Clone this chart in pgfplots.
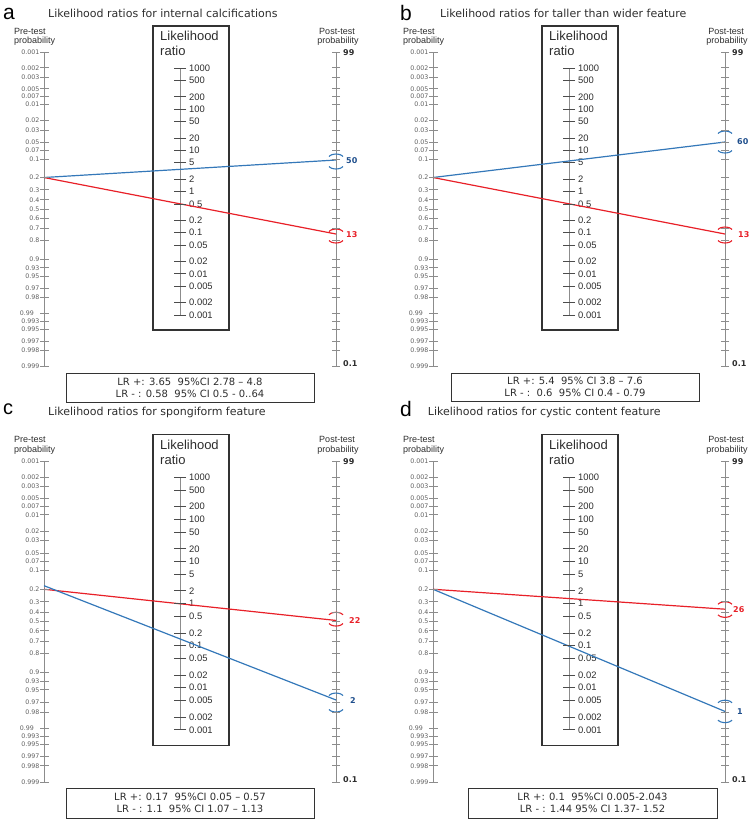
\documentclass[border=0pt]{standalone}
\usepackage{pgfplots}
\pgfplotsset{compat=1.18}
\usepackage{fontspec}
\setmainfont{Liberation Sans}
\newfontfamily\dv{DejaVu Sans}
\definecolor{lblue}{RGB}{52,120,185}
\definecolor{lred}{RGB}{232,32,40}
\definecolor{dblue}{RGB}{30,78,140}
\definecolor{axg}{RGB}{140,140,140}
\definecolor{labg}{RGB}{95,95,95}
\definecolor{txt}{RGB}{45,45,45}

\newcommand{\pl}[2]{\node[anchor=east,inner sep=0pt,font=\dv\fontsize{6.3}{7}\selectfont,text=labg] at (axis cs:39.5,#1) {#2};}
\newcommand{\lrl}[2]{\node[anchor=west,inner sep=0pt,font=\fontsize{9.4}{10}\selectfont,text=txt] at (axis cs:189,#1) {#2};}

\newcommand{\common}{%
 \draw[line width=1.1pt, black!80] (axis cs:153,26) rectangle (axis cs:229,330);
 \node[anchor=west, inner sep=0pt, font=\fontsize{13}{14}\selectfont, text=txt] at (axis cs:160,36) {Likelihood};
 \node[anchor=west, inner sep=0pt, font=\fontsize{13}{14}\selectfont, text=txt] at (axis cs:160,51) {ratio};
 \node[anchor=west, inner sep=0pt, font=\fontsize{9}{10}\selectfont, text=txt] at (axis cs:14,31) {Pre-test};
 \node[anchor=west, inner sep=0pt, font=\fontsize{9}{10}\selectfont, text=txt] at (axis cs:14,41) {probability};
 \node[anchor=center, inner sep=0pt, font=\fontsize{9}{10}\selectfont, text=txt] at (axis cs:337,31) {Post-test};
 \node[anchor=center, inner sep=0pt, font=\fontsize{9}{10}\selectfont, text=txt] at (axis cs:338,41) {probability};
 \addplot[axg, line width=0.8pt] coordinates {(44,52) (44,366)};
 \addplot[axg, line width=0.8pt] coordinates {(336,52) (336,366)};
 \addplot[axg, line width=0.8pt] coordinates {(180,68) (180,315)};
 \addplot[axg, only marks, mark=-, mark size=4.2pt, mark options={line width=0.8pt}] coordinates {
  (44.6,52.0) (44.6,67.8) (44.6,77.0) (44.6,88.7) (44.6,96.4) (44.6,104.6) (44.6,120.5) (44.6,130.0)
  (44.6,142.1) (44.6,150.2) (44.6,159.1) (44.6,177.5) (44.6,189.7) (44.6,199.8) (44.6,209.0) (44.6,218.2)
  (44.6,228.3) (44.6,240.5) (44.6,258.9) (44.6,267.8) (44.6,275.9) (44.6,288.0) (44.6,297.5) (44.6,313.4)
  (44.6,321.6) (44.6,329.3) (44.6,341.0) (44.6,350.2) (44.6,366.0)};
 \addplot[axg, only marks, mark=-, mark size=4.2pt, mark options={line width=0.8pt}] coordinates {
  (336,52.0) (336,67.8) (336,77.0) (336,88.7) (336,96.4) (336,104.6) (336,120.5) (336,130.0)
  (336,142.1) (336,150.2) (336,159.1) (336,177.5) (336,189.7) (336,199.8) (336,209.0) (336,218.2)
  (336,228.3) (336,240.5) (336,258.9) (336,267.8) (336,275.9) (336,288.0) (336,297.5) (336,313.4)
  (336,321.6) (336,329.3) (336,341.0) (336,350.2) (336,366.0)};
 \addplot[black!70, only marks, mark=-, mark size=6pt, mark options={line width=0.8pt}] coordinates {
  (180,68.0) (180,80.4) (180,96.8) (180,109.2) (180,121.5) (180,137.9) (180,150.3) (180,162.7)
  (180,179.1) (180,191.5) (180,203.9) (180,220.2) (180,232.7) (180,244.9) (180,261.3) (180,273.8)
  (180,286.2) (180,302.5) (180,315.0)};
 \pl{52.0}{0.001}\pl{67.8}{0.002}\pl{77.0}{0.003}\pl{88.7}{0.005}\pl{96.4}{0.007}\pl{104.6}{0.01}
 \pl{120.5}{0.02}\pl{130.0}{0.03}\pl{142.1}{0.05}\pl{150.2}{0.07}\pl{159.1}{0.1}\pl{177.5}{0.2}
 \pl{189.7}{0.3}\pl{199.8}{0.4}\pl{209.0}{0.5}\pl{218.2}{0.6}\pl{228.3}{0.7}\pl{240.5}{0.8}
 \pl{258.9}{0.9}\pl{267.8}{0.93}\pl{275.9}{0.95}\pl{288.0}{0.97}\pl{297.5}{0.98}
 \node[anchor=east,inner sep=0pt,font=\dv\fontsize{6.3}{7}\selectfont,text=labg] at (axis cs:34,313.4) {0.99};
 \pl{321.6}{0.993}\pl{329.3}{0.995}\pl{341.0}{0.997}\pl{350.2}{0.998}\pl{366.0}{0.999}
 \lrl{68.0}{1000}\lrl{80.4}{500}\lrl{96.8}{200}\lrl{109.2}{100}\lrl{121.5}{50}\lrl{137.9}{20}
 \lrl{150.3}{10}\lrl{162.7}{5}\lrl{179.1}{2}\lrl{191.5}{1}\lrl{203.9}{0.5}\lrl{220.2}{0.2}
 \lrl{232.7}{0.1}\lrl{244.9}{0.05}\lrl{261.3}{0.02}\lrl{273.8}{0.01}\lrl{286.2}{0.005}
 \lrl{302.5}{0.002}\lrl{315.0}{0.001}
 \node[anchor=west,inner sep=0pt,font=\dv\bfseries\fontsize{8}{9}\selectfont,text=txt] at (axis cs:343,53) {99};
 \node[anchor=west,inner sep=0pt,font=\dv\bfseries\fontsize{8}{9}\selectfont,text=txt] at (axis cs:343,364) {0.1};
}
\pgfplotsset{panel/.style={scale only axis, hide axis, clip=false, y dir=reverse, anchor=north west, width=377pt}}
\newcommand{\ttl}[1]{\dv\fontsize{11}{12}\selectfont #1}

\begin{document}
\begin{tikzpicture}
\useasboundingbox (0pt,0pt) rectangle (754pt,-820pt);
% ---------- panel a ----------
\begin{axis}[panel, at={(0pt,0pt)}, xmin=0, xmax=377, ymin=0, ymax=399.6, height=399.6pt]
\common
\node[anchor=base west, inner sep=0pt, font=\fontsize{21}{22}\selectfont] at (axis cs:3,19.5) {a};
\node[anchor=west, inner sep=0pt, font=\ttl{}, text=txt] at (axis cs:48,13) {Likelihood ratios for internal calcifications};
\addplot[lblue, line width=1.2pt] coordinates {(44,177.5) (336,160)};
\addplot[lred, line width=1.2pt] coordinates {(44,177.5) (336,234)};
\addplot[lblue, line width=1.1pt, smooth] coordinates {(329,156.5) (331.5,154.8) (336,154) (340.5,154.8) (343,156.5)};
\addplot[lblue, line width=1.1pt, smooth] coordinates {(329,166.5) (331.5,168.2) (336,169) (340.5,168.2) (343,166.5)};
\addplot[lred, line width=1.1pt, smooth] coordinates {(329,231.5) (331.5,229.8) (336,229) (340.5,229.8) (343,231.5)};
\addplot[lred, line width=1.1pt, smooth] coordinates {(329,240.5) (331.5,242.2) (336,243) (340.5,242.2) (343,240.5)};
\node[anchor=west,inner sep=0pt,font=\dv\bfseries\fontsize{8}{9}\selectfont,text=dblue] at (axis cs:346,161) {50};
\node[anchor=west,inner sep=0pt,font=\dv\bfseries\fontsize{8}{9}\selectfont,text=lred] at (axis cs:346,235) {13};
\node[draw=black!80, line width=1pt, minimum width=248pt, minimum height=29pt, inner sep=0pt, align=center, font=\dv\fontsize{10}{12}\selectfont, text=txt] at (axis cs:190,387.5) {LR +: 3.65~~95\%CI 2.78 – 4.8\\LR - : 0.58~~95\% CI 0.5 - 0..64};
\end{axis}
% ---------- panel b ----------
\begin{axis}[panel, at={(377pt,0pt)}, xmin=-12, xmax=365, ymin=0, ymax=399.6, height=399.6pt]
\common
\node[anchor=base west, inner sep=0pt, font=\fontsize{21}{22}\selectfont] at (axis cs:11,20) {b};
\node[anchor=west, inner sep=0pt, font=\ttl{}, text=txt] at (axis cs:51,13) {Likelihood ratios for taller than wider feature};
\addplot[lblue, line width=1.2pt] coordinates {(44,177.5) (336,142)};
\addplot[lred, line width=1.2pt] coordinates {(44,177.5) (336,234)};
\addplot[lblue, line width=1.1pt, smooth] coordinates {(329,133.5) (331.5,131.8) (336,131) (340.5,131.8) (343,133.5)};
\addplot[lblue, line width=1.1pt, smooth] coordinates {(329,150.5) (331.5,152.2) (336,153) (340.5,152.2) (343,150.5)};
\addplot[lred, line width=1.1pt, smooth] coordinates {(329,229.5) (331.5,227.8) (336,227) (340.5,227.8) (343,229.5)};
\addplot[lred, line width=1.1pt, smooth] coordinates {(329,240.5) (331.5,242.2) (336,243) (340.5,242.2) (343,240.5)};
\node[anchor=west,inner sep=0pt,font=\dv\bfseries\fontsize{8}{9}\selectfont,text=dblue] at (axis cs:348,142) {60};
\node[anchor=west,inner sep=0pt,font=\dv\bfseries\fontsize{8}{9}\selectfont,text=lred] at (axis cs:349,235) {13};
\node[draw=black!80, line width=1pt, minimum width=248pt, minimum height=28pt, inner sep=0pt, align=center, font=\dv\fontsize{10}{12}\selectfont, text=txt] at (axis cs:186,387) {LR +: 5.4~~95\% CI 3.8 – 7.6\\LR - :~~0.6~~95\% CI 0.4 - 0.79};
\end{axis}
% ---------- panel c ----------
\begin{axis}[panel, at={(0pt,-399.6pt)}, xmin=0, xmax=377, ymin=-8, ymax=403.2, height=420.4pt]
\common
\node[anchor=base west, inner sep=0pt, font=\fontsize{20}{22}\selectfont] at (axis cs:3,7) {c};
\node[anchor=west, inner sep=0pt, font=\ttl{}, text=txt] at (axis cs:48,5) {Likelihood ratios for spongiform feature};
\addplot[lred, line width=1.2pt] coordinates {(44,177.5) (336,208)};
\addplot[lblue, line width=1.2pt] coordinates {(44,174) (336,285.8)};
\addplot[lred, line width=1.1pt, smooth] coordinates {(329,202.5) (331.5,200.8) (336,200) (340.5,200.8) (343,202.5)};
\addplot[lred, line width=1.1pt, smooth] coordinates {(329,211) (331.5,212.7) (336,213.5) (340.5,212.7) (343,211)};
\addplot[lblue, line width=1.1pt, smooth] coordinates {(329,281.5) (331.5,279.8) (336,279) (340.5,279.8) (343,281.5)};
\addplot[lblue, line width=1.1pt, smooth] coordinates {(329,295.1) (331.5,296.8) (336,297.6) (340.5,296.8) (343,295.1)};
\node[anchor=west,inner sep=0pt,font=\dv\bfseries\fontsize{8}{9}\selectfont,text=lred] at (axis cs:349,208) {22};
\node[anchor=west,inner sep=0pt,font=\dv\bfseries\fontsize{8}{9}\selectfont,text=dblue] at (axis cs:350,286) {2};
\node[draw=black!80, line width=1pt, minimum width=248pt, minimum height=30pt, inner sep=0pt, align=center, font=\dv\fontsize{10}{12}\selectfont, text=txt] at (axis cs:190,386.6) {LR +: 0.17~~95\%CI 0.05 – 0.57\\LR - : 1.1~~95\% CI 1.07 – 1.13};
\end{axis}
% ---------- panel d ----------
\begin{axis}[panel, at={(377pt,-399.6pt)}, xmin=-12, xmax=365, ymin=-8, ymax=403.2, height=420.4pt]
\common
\node[anchor=base west, inner sep=0pt, font=\fontsize{21}{22}\selectfont] at (axis cs:11,9) {d};
\node[anchor=west, inner sep=0pt, font=\ttl{}, text=txt] at (axis cs:38.7,5) {Likelihood ratios for cystic content feature};
\addplot[lred, line width=1.2pt] coordinates {(44,177.5) (336,197)};
\addplot[lblue, line width=1.2pt] coordinates {(44,177.5) (336,297)};
\addplot[lred, line width=1.1pt, smooth] coordinates {(329,192.2) (331.5,190.5) (336,189.7) (340.5,190.5) (343,192.2)};
\addplot[lred, line width=1.1pt, smooth] coordinates {(329,202.5) (331.5,204.2) (336,205) (340.5,204.2) (343,202.5)};
\addplot[lblue, line width=1.1pt, smooth] coordinates {(329,288.5) (331.5,286.8) (336,286) (340.5,286.8) (343,288.5)};
\addplot[lblue, line width=1.1pt, smooth] coordinates {(329,305.5) (331.5,307.2) (336,308) (340.5,307.2) (343,305.5)};
\node[anchor=west,inner sep=0pt,font=\dv\bfseries\fontsize{8}{9}\selectfont,text=lred] at (axis cs:344,197) {26};
\node[anchor=west,inner sep=0pt,font=\dv\bfseries\fontsize{8}{9}\selectfont,text=dblue] at (axis cs:348,297) {1};
\node[draw=black!80, line width=1pt, minimum width=249pt, minimum height=30pt, inner sep=0pt, align=center, font=\dv\fontsize{10}{12}\selectfont, text=txt] at (axis cs:203.5,386.6) {LR +: 0.1~~95\%CI 0.005-2.043\\LR - : 1.44 95\% CI 1.37- 1.52};
\end{axis}
\end{tikzpicture}
\end{document}
